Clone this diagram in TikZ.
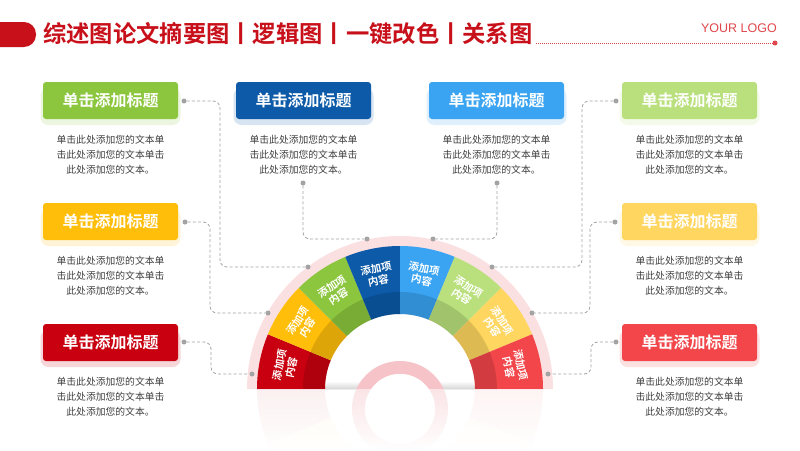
\documentclass[tikz,border=0pt]{standalone}
\usepackage{fontspec}
\setmainfont{Noto Sans CJK SC}[BoldFont=Noto Sans CJK SC Bold]
\newfontfamily\latinf{Liberation Sans}
\usetikzlibrary{fadings}
\definecolor{cDR}{HTML}{C8000F}
\definecolor{cY}{HTML}{FFBE0A}
\definecolor{cG}{HTML}{8CC63E}
\definecolor{cDB}{HTML}{0C5AA8}
\definecolor{cLB}{HTML}{3AA4F2}
\definecolor{cLG}{HTML}{B9E07C}
\definecolor{cLY}{HTML}{FFD660}
\definecolor{cR}{HTML}{F2464A}
\definecolor{titlered}{HTML}{C8101A}
\definecolor{logored}{HTML}{E0474C}
\definecolor{txt}{HTML}{404040}
\definecolor{dotc}{HTML}{A3A3A3}
\definecolor{halo}{HTML}{FBE0E2}
\definecolor{ringpink}{HTML}{F6C4C8}
\tikzfading[name=reflfade, top color=transparent!45, bottom color=transparent!0]
\tikzset{
 conn/.style={draw=dotc, line width=0.8pt, dash pattern=on 3pt off 2.2pt, rounded corners=7pt},
 dotn/.style={circle, fill=dotc, inner sep=0, minimum size=5pt},
 tbox/.style={minimum width=135pt, minimum height=37pt, inner sep=0, rounded corners=3pt, text=white, font=\bfseries\fontsize{16}{16}\selectfont},
 body/.style={align=center, text=txt, font=\fontsize{9.8}{15}\selectfont, inner sep=0},
 seglab/.style={align=center, text=white, font=\bfseries\fontsize{10.5}{12}\selectfont, inner sep=0},
}
\newcommand\mycard[4]{%
 \fill[#2, opacity=.16, rounded corners=8pt] (#3-70,#4+6) rectangle (#3+70,#4+43);
 \node[tbox, fill=#2] (#1) at (#3,#4+18.5) {单击添加标题};
 \node[body] (#1t) at (#3,#4+73) {单击此处添加您的文本单\\击此处添加您的文本单击\\此处添加您的文本。};
}
\begin{document}
\begin{tikzpicture}[x=1pt,y=-1pt]
\fill[white] (0,0) rectangle (800,450);
\useasboundingbox (0,0) rectangle (800,450);
% header
\fill[titlered, rounded corners=12pt] (-20,22) rectangle (36,47);
\node[anchor=west, text=titlered, font=\bfseries\fontsize{23.3}{23.3}\selectfont, inner sep=0] (title) at (43,34) {综述图论文摘要图丨逻辑图丨一键改色丨关系图};
\coordinate (ls) at (536,43);
\node[circle, fill=logored, inner sep=0, minimum size=5pt] (logodot) at (775,43) {};
\draw[logored, line width=1pt, dash pattern=on 1pt off 1pt] (ls) -- (logodot);
\node[anchor=east, font=\latinf\fontsize{12.5}{12.5}\selectfont, text=logored, inner sep=0] (logo) at (777,28) {YOUR LOGO};
% cards
\mycard{b1}{cG}{110.5}{82}
\mycard{b2}{cY}{110.5}{203}
\mycard{b3}{cDR}{110.5}{324}
\mycard{b4}{cDB}{303.5}{82}
\mycard{b5}{cLB}{496.5}{82}
\mycard{b6}{cLG}{689.5}{82}
\mycard{b7}{cLY}{689.5}{203}
\mycard{b8}{cR}{689.5}{324}
% semicircle
\begin{scope}[shift={(400,389)}]
 \fill[halo] (180:75pt) arc[start angle=180, end angle=0, radius=75pt] -- (0:153pt) arc[start angle=0, end angle=180, radius=153pt] -- cycle;
 \shade[top color=white, bottom color=black!16] (-75pt,0pt) rectangle (75pt,8pt);
 \foreach \i/\c in {0/cDR,1/cY,2/cG,3/cDB,4/cLB,5/cLG,6/cLY,7/cR} {
  \pgfmathsetmacro\aa{180-22.5*\i}
  \pgfmathsetmacro\ab{180-22.5*(\i+1)}
  \pgfmathsetmacro\am{180-22.5*(\i+0.5)}
  \fill[\c] (\aa:75pt) arc[start angle=\aa, end angle=\ab, radius=75pt] -- (\ab:143pt) arc[start angle=\ab, end angle=\aa, radius=143pt] -- cycle;
  \fill[black, opacity=.13] (\aa:75pt) arc[start angle=\aa, end angle=\ab, radius=75pt] -- (\ab:97pt) arc[start angle=\ab, end angle=\aa, radius=97pt] -- cycle;
  \node[seglab, rotate=\am-90] (l\i) at (\am:117pt) {添加项\\内容};
  \fill[\c, opacity=.13] (-\aa:75pt) arc[start angle=-\aa, end angle=-\ab, radius=75pt] -- (-\ab:143pt) arc[start angle=-\ab, end angle=-\aa, radius=143pt] -- cycle;
 }
 \fill[ringpink, even odd rule] (0pt,-20pt) circle[radius=48pt] (0pt,-20pt) circle[radius=35pt];
 \fill[white] (0pt,-20pt) circle[radius=35pt];
 \fill[white, path fading=reflfade] (-165pt,0pt) rectangle (165pt,-62pt);
\end{scope}
% dots
\node[dotn] (p1) at (184,101) {};
\node[dotn] (p2) at (185,222) {};
\node[dotn] (p3) at (184,342) {};
\node[dotn] (p4) at (303,183) {};
\node[dotn] (p5) at (497,183) {};
\node[dotn] (p6) at (616,101) {};
\node[dotn] (p7) at (615,222) {};
\node[dotn] (p8) at (616,342) {};
\node[dotn] (s1) at (308,267) {};
\node[dotn] (s2) at (268,313) {};
\node[dotn] (s3) at (252,374) {};
\node[dotn] (s4) at (367,239) {};
\node[dotn] (s5) at (433,239) {};
\node[dotn] (s6) at (492,267) {};
\node[dotn] (s7) at (532,313) {};
\node[dotn] (s8) at (548,374) {};
\draw[conn] (p1) -- (220,101) -- (220,267) -- (s1);
\draw[conn] (p2) -- (210,222) -- (210,313) -- (s2);
\draw[conn] (p3) -- (211,342) -- (211,374) -- (s3);
\draw[conn] (p4) -- (303,239) -- (s4);
\draw[conn] (p5) -- (497,239) -- (s5);
\draw[conn] (p6) -- (582,101) -- (582,267) -- (s6);
\draw[conn] (p7) -- (590,222) -- (590,313) -- (s7);
\draw[conn] (p8) -- (591,342) -- (591,374) -- (s8);
\end{tikzpicture}
\end{document}
